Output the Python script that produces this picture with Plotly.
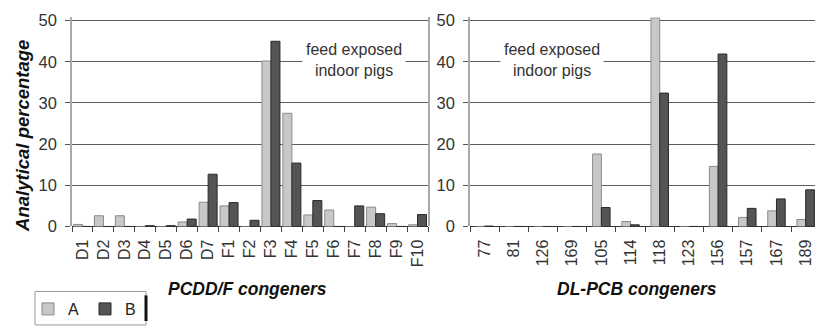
import plotly.graph_objects as go

# PCDD/F congener profile
pcdd_labels = ["D1", "D2", "D3", "D4", "D5", "D6", "D7", "F1", "F2", "F3",
               "F4", "F5", "F6", "F7", "F8", "F9", "F10"]
pcdd_a = [0.5, 2.6, 2.6, 0.0, 0.0, 1.1, 5.9, 5.0, 0.0, 40.2,
          27.5, 2.8, 4.0, 0.0, 4.7, 0.7, 0.4]
pcdd_b = [0.0, 0.0, 0.0, 0.2, 0.2, 1.8, 12.7, 5.8, 1.5, 45.0,
          15.4, 6.3, 0.0, 5.0, 3.1, 0.0, 2.9]

# DL-PCB congener profile
pcb_labels = ["77", "81", "126", "169", "105", "114", "118", "123",
              "156", "157", "167", "189"]
pcb_a = [0.0, 0.0, 0.0, 0.0, 17.6, 1.2, 50.7, 0.0, 14.6, 2.2, 3.8, 1.7]
pcb_b = [0.1, 0.0, 0.0, 0.0, 4.6, 0.4, 32.4, 0.0, 41.9, 4.4, 6.7, 8.9]

y_ticks = [0, 10, 20, 30, 40, 50]

W, H = 815, 326
FONT = "Liberation Sans, Arial, sans-serif"
COL_A = "#c8c8c8"
COL_B = "#545454"


def px(x):
    return x / W


def py(y):
    return 1 - y / H


fig = go.Figure()

fig.add_trace(go.Bar(x=pcdd_labels, y=pcdd_a, name="A", marker_color=COL_A,
                     marker_line=dict(color="#8a8a8a", width=1),
                     xaxis="x", yaxis="y", legendgroup="A"))
fig.add_trace(go.Bar(x=pcdd_labels, y=pcdd_b, name="B", marker_color=COL_B,
                     marker_line=dict(color="#2a2a2a", width=1),
                     xaxis="x", yaxis="y", legendgroup="B"))
# PCB bars are narrower relative to their (wider) categories
fig.add_trace(go.Bar(x=pcb_labels, y=pcb_a, name="A", marker_color=COL_A,
                     marker_line=dict(color="#8a8a8a", width=1),
                     xaxis="x2", yaxis="y2", legendgroup="A", showlegend=False,
                     width=0.3, offset=-0.3))
fig.add_trace(go.Bar(x=pcb_labels, y=pcb_b, name="B", marker_color=COL_B,
                     marker_line=dict(color="#2a2a2a", width=1),
                     xaxis="x2", yaxis="y2", legendgroup="B", showlegend=False,
                     width=0.3, offset=0.0))

y_dom = [py(230), py(230 - 50.8 * 4.18)]
common_y = dict(range=[0, 50.8], tickvals=y_ticks, showgrid=True,
                gridcolor="#5e5e5e", gridwidth=1, zeroline=True,
                zerolinecolor="#333333", zerolinewidth=1, showline=True,
                linecolor="#a8a8a8", linewidth=1.5, ticks="outside",
                ticklen=5, tickcolor="#555555", automargin=False,
                ticklabelstandoff=5,
                tickfont=dict(family=FONT, size=16.5, color="#333333"),
                domain=y_dom)
common_x = dict(type="category", tickangle=-90, ticks="outside",
                tickson="boundaries", ticklen=5, tickcolor="#444444",
                showline=False, showgrid=False, automargin=False,
                ticklabelstandoff=9,
                tickfont=dict(family=FONT, size=16, color="#333333"))

fig.update_layout(
    width=W, height=H,
    margin=dict(l=0, r=0, t=0, b=0),
    paper_bgcolor="white", plot_bgcolor="white",
    barmode="group",
    xaxis=dict(common_x, domain=[px(72), px(428)], range=[-0.5, 16.5],
               anchor="y"),
    yaxis=dict(common_y, anchor="x", mirror=True),
    xaxis2=dict(common_x, domain=[px(470), 1.0], range=[-0.5, 11.32],
                anchor="y2"),
    yaxis2=dict(common_y, anchor="x2"),
    bargap=0.14,
    legend=dict(orientation="h", x=px(28), y=py(297), xanchor="left",
                yanchor="top", font=dict(family=FONT, size=16, color="#222222"),
                bgcolor="rgba(0,0,0,0)", borderwidth=0, itemwidth=30,
                entrywidth=12, traceorder="normal"),
    showlegend=True,
)

ann_font = dict(family=FONT, size=16, color="#333333")
fig.add_annotation(x=px(23), y=py(138), xref="paper", yref="paper",
                   xanchor="center", yanchor="middle",
                   text="<b><i>Analytical percentage</i></b>", textangle=-90,
                   showarrow=False,
                   font=dict(family=FONT, size=18.5, color="#111111"))
for cx, label in ((247, "PCDD/F congeners"), (637, "DL-PCB congeners")):
    fig.add_annotation(x=px(cx), y=py(293), xref="paper", yref="paper",
                       xanchor="center", yanchor="middle",
                       text=f"<b><i>{label}</i></b>", showarrow=False,
                       font=dict(family=FONT, size=17.5, color="#111111"))
for cx in (354, 552):
    fig.add_annotation(x=px(cx), y=py(61), xref="paper", yref="paper",
                       xanchor="center", yanchor="middle",
                       text="feed exposed<br>indoor pigs", showarrow=False,
                       font=ann_font, bgcolor="white", borderpad=3)

# Legend frame
fig.add_shape(type="rect", xref="paper", yref="paper",
              x0=px(35), x1=px(146), y0=py(330), y1=py(296),
              line=dict(color="#9a9a9a", width=1))
fig.add_shape(type="line", xref="paper", yref="paper",
              x0=px(146), x1=px(146), y0=py(326), y1=py(300),
              line=dict(color="#111111", width=3))

fig.write_html("out.html")
